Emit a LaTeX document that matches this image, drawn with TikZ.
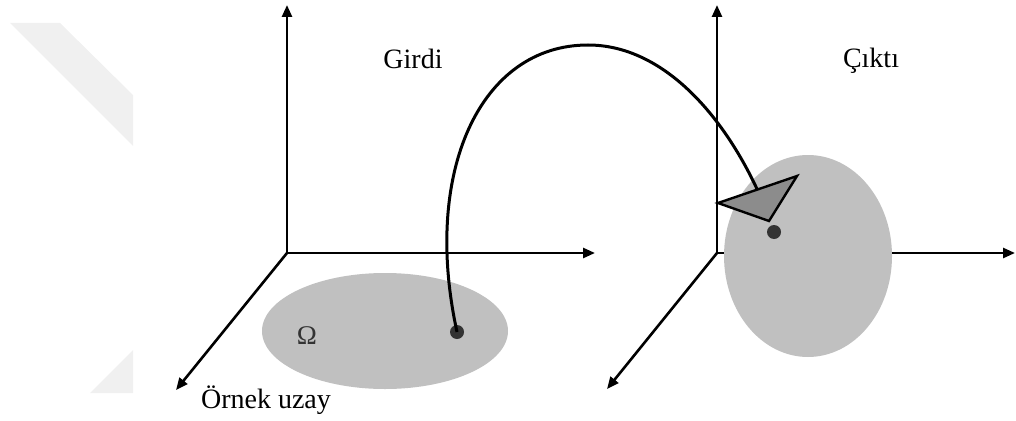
\documentclass[tikz,border=0pt]{standalone}
\usepackage{fontspec}
\setmainfont{Liberation Serif}
\usetikzlibrary{arrows.meta}
\definecolor{regiongray}{HTML}{C0C0C0}
\definecolor{dotgray}{HTML}{333333}
\definecolor{tipgray}{HTML}{8C8C8C}
\definecolor{wmgray}{HTML}{F0F0F0}
\begin{document}
\begin{tikzpicture}[x=1pt,y=-1pt,
  axis/.style={line width=2.6pt,-{Triangle[length=12pt,width=10pt]}},
  region/.style={fill=regiongray,draw=none},
  pointdot/.style={circle,fill=dotgray,inner sep=0pt,minimum size=14pt},
  label/.style={font=\fontsize{28}{32}\selectfont,anchor=base},
  mapcurve/.style={line width=3pt}]
\useasboundingbox (0,0) rectangle (1016,420);
% faint watermark
\fill[wmgray] (10,23) -- (60,23) -- (133,95) -- (133,146) -- cycle;
\fill[wmgray] (90,393) -- (133,350) -- (133,393) -- cycle;
% coordinates
\coordinate (O1) at (287,253);
\coordinate (Y1) at (287,5);
\coordinate (X1) at (595,253);
\coordinate (Z1) at (176,390);
\coordinate (O2) at (717,253);
\coordinate (Y2) at (717,5);
\coordinate (X2) at (1015,253);
\coordinate (Z2) at (607,389);
% axes
\draw[axis] (O1) -- (Y1);
\draw[axis] (O1) -- (X1);
\draw[axis] (O1) -- (Z1);
\draw[axis] (O2) -- (Y2);
\draw[axis] (O2) -- (X2);
\draw[axis] (O2) -- (Z2);
% regions
\fill[region] (385,331) ellipse [x radius=123, y radius=58];
\fill[region] (808,256) ellipse [x radius=84, y radius=101];
% labels
\node[label] (girdi) at (413,68) {Girdi};
\node[label] (cikti) at (871,67) {Çıktı};
\node[label] (ornek) at (266,408) {Örnek uzay};
\node[font=\fontsize{27}{30}\selectfont,text=dotgray] (omega) at (307,336) {Ω};
% points
\node[pointdot] (p1) at (457,332) {};
\node[pointdot] (p2) at (774,232) {};
% mapping curve
\coordinate (top) at (588,45);
\coordinate (hit) at (757,189);
\draw[mapcurve] (p1.center) .. controls (422,172) and (480,45) .. (top)
  .. controls (660,45) and (720,110) .. (hit);
% big arrowhead
\coordinate (t1) at (718,203);
\coordinate (t2) at (797,176);
\coordinate (t3) at (769,221);
\filldraw[fill=tipgray,draw=black,line width=2.4pt,line join=miter] (t1) -- (t2) -- (t3) -- cycle;
\end{tikzpicture}
\end{document}
